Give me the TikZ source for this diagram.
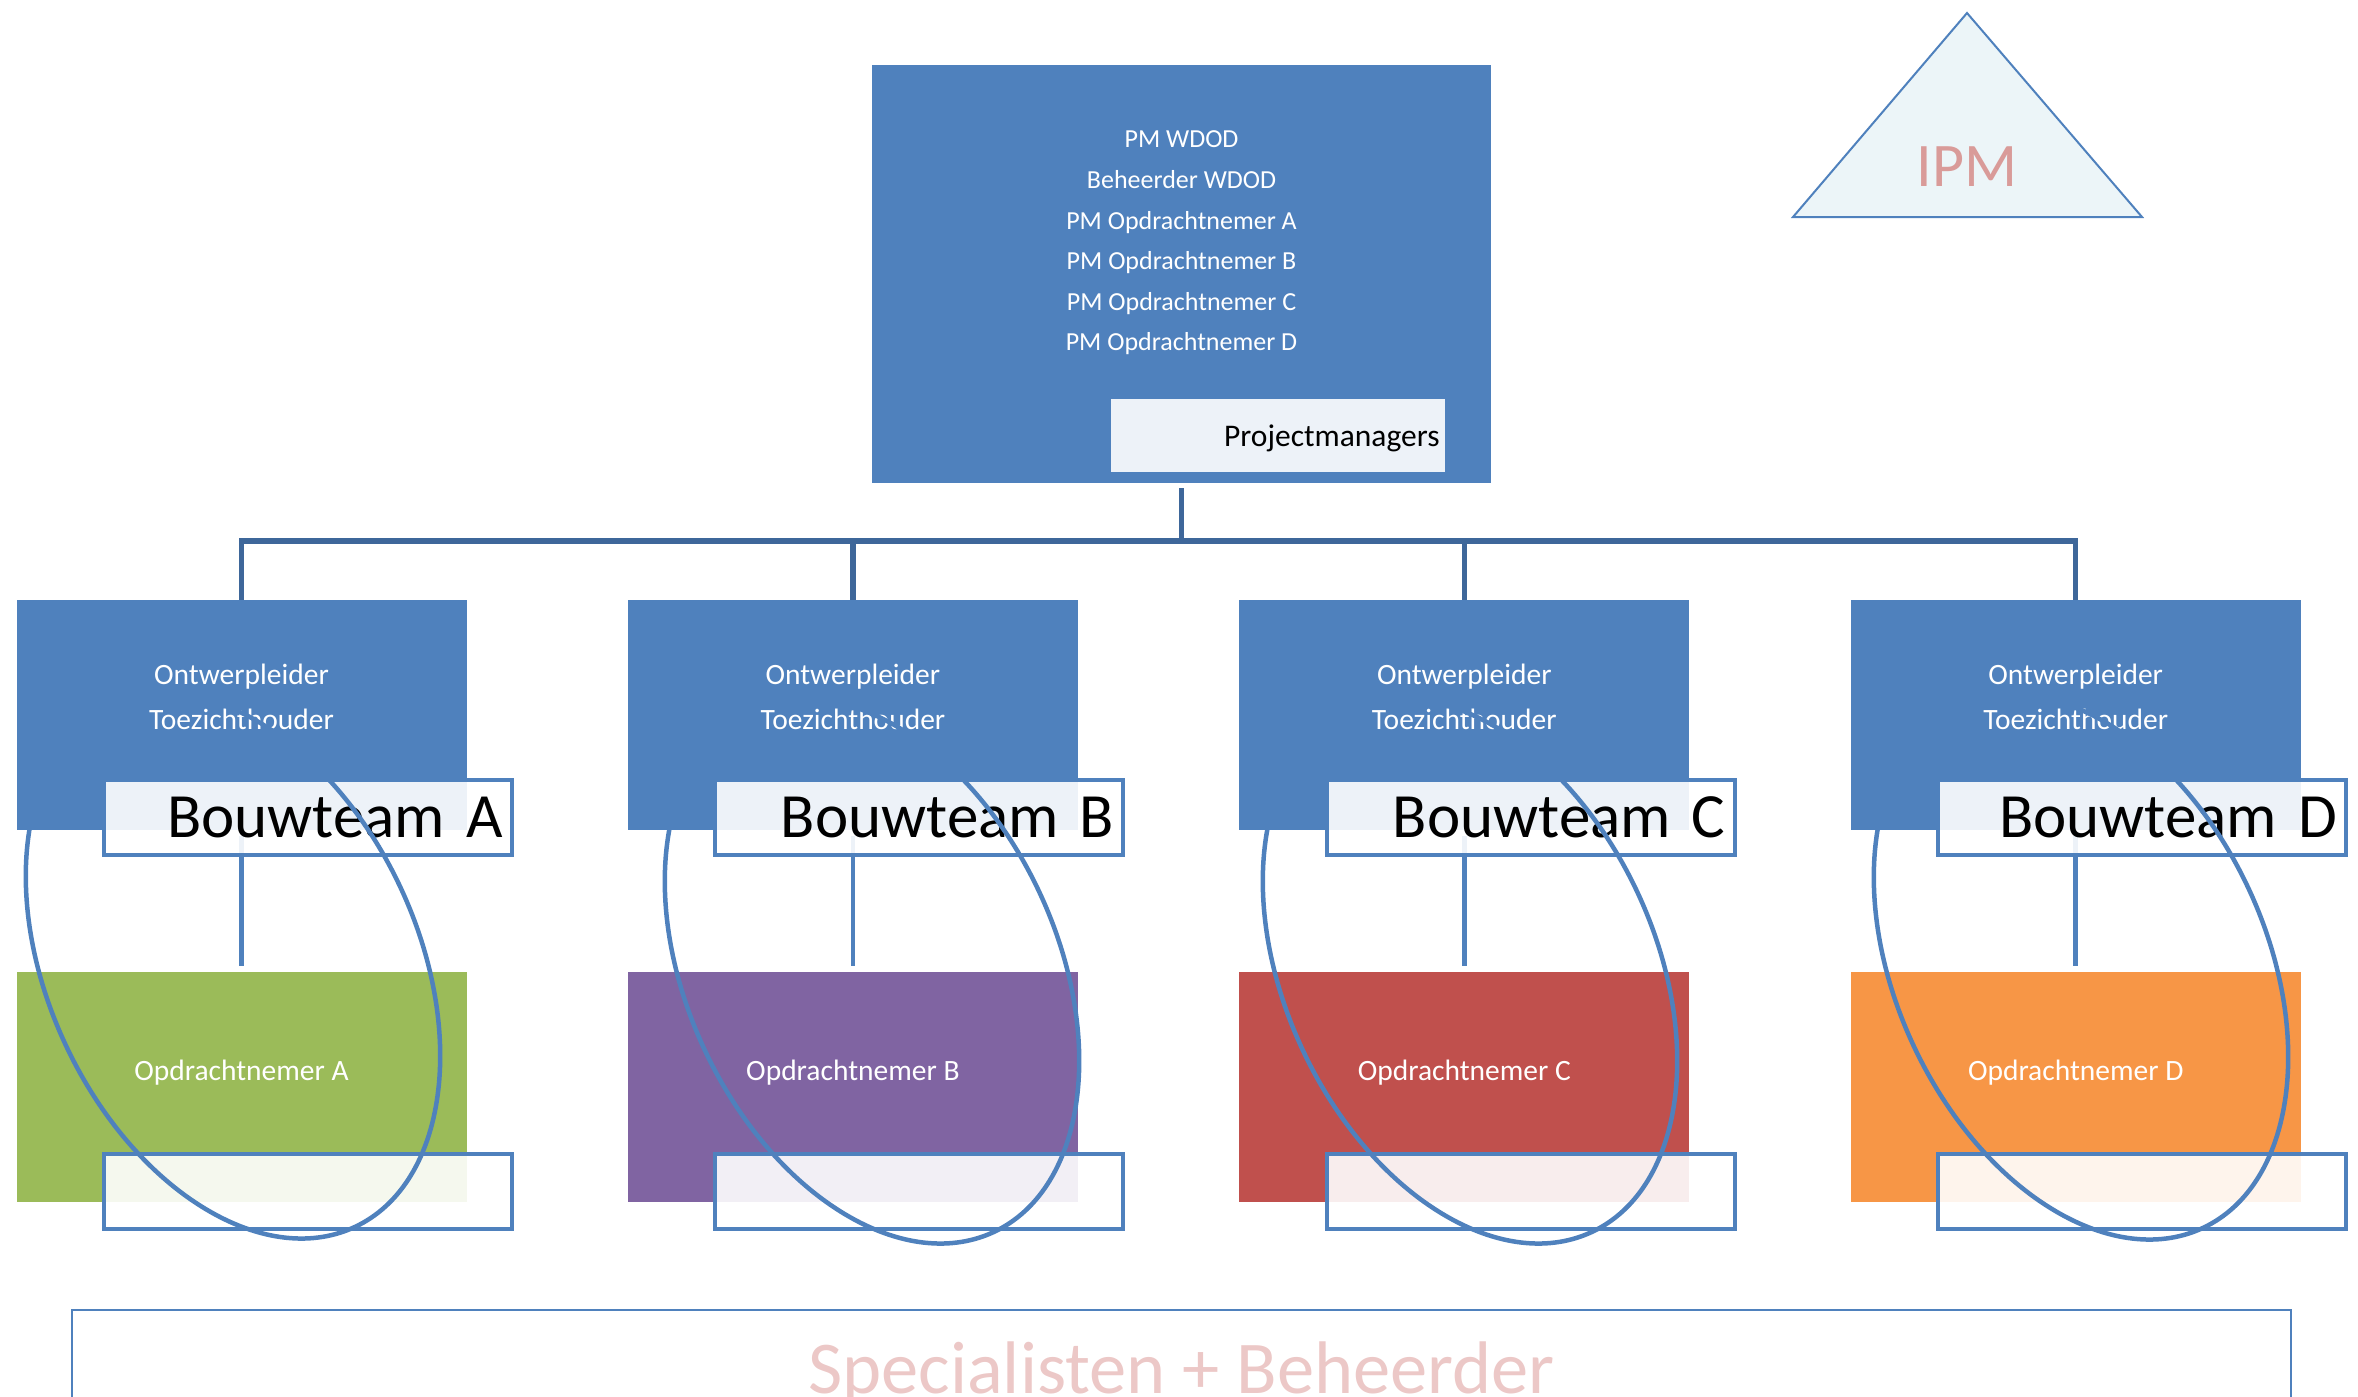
\documentclass[tikz,border=0pt]{standalone}
\usepackage{fontspec}
\setmainfont{Carlito}
\usetikzlibrary{shapes,positioning,calc}
\definecolor{boxblue}{RGB}{79,129,189}
\definecolor{busblue}{RGB}{62,103,154}
\definecolor{firmgreen}{RGB}{155,187,89}
\definecolor{firmpurple}{RGB}{128,100,162}
\definecolor{firmred}{RGB}{192,80,77}
\definecolor{firmorange}{RGB}{247,150,70}
\definecolor{ipmpink}{RGB}{217,155,153}
\definecolor{specpink}{RGB}{236,200,199}
\definecolor{ipmfill}{RGB}{236,245,248}

\begin{document}
\begin{tikzpicture}
  [x=1pt,y=-1pt,
   pmN/.style={rectangle,fill=boxblue,inner sep=0pt,minimum width=619pt,minimum height=418pt},
   leadN/.style={rectangle,fill=boxblue,inner sep=0pt,minimum width=450pt,minimum height=230pt},
   firmN/.style={rectangle,inner sep=0pt,minimum width=450pt,minimum height=230pt},
   tagN/.style={rectangle,draw=boxblue,line width=4pt,fill=white,fill opacity=0.9,text opacity=1,
                minimum width=408pt,minimum height=75pt,inner xsep=9pt,inner ysep=0pt,
                text width=390pt,align=right,anchor=south east,
                font={\fontsize{63}{75}\selectfont\spaceskip=0.1em\relax}},
   pmtagN/.style={rectangle,fill=white,fill opacity=0.9,text opacity=1,
                minimum width=334pt,minimum height=73pt,inner xsep=5pt,inner ysep=0pt,
                text width=324pt,align=right,anchor=south east,
                font=\fontsize{31.5}{36}\selectfont},
   whiteT/.style={text=white,align=center,font=\fontsize{29.5}{45}\selectfont},
   ringN/.style={ellipse,draw=boxblue,line width=4.5pt,inner sep=0pt,
                 minimum width=370pt,minimum height=576pt,rotate=25},
   busline/.style={draw=busblue,line width=5.5pt,shorten <=5pt},
   teamline/.style={draw=boxblue,line width=4.5pt,shorten <=6pt,shorten >=6pt},
   node distance=161pt]

  \useasboundingbox (0,0) rectangle (2358,1397);

  \node[pmN] (pm) at (1181.5,274) {};

  \node[leadN] (tA) at (241.5,715) {};
  \node[leadN] (tB) [right=of tA] {};
  \node[leadN] (tC) [right=of tB] {};
  \node[leadN] (tD) [right=of tC] {};

  \node[firmN,fill=firmgreen]  (oA) [below=142pt of tA] {};
  \node[firmN,fill=firmpurple] (oB) [below=142pt of tB] {};
  \node[firmN,fill=firmred]    (oC) [below=142pt of tC] {};
  \node[firmN,fill=firmorange] (oD) [below=142pt of tD] {};

  \draw[busline] (pm.south) -- ++(0,58) -| (tA.north);
  \draw[busline] (pm.south) -- ++(0,58) -| (tB.north);
  \draw[busline] (pm.south) -- ++(0,58) -| (tC.north);
  \draw[busline] (pm.south) -- ++(0,58) -| (tD.north);

  \draw[teamline] (tA) -- (oA);
  \draw[teamline] (tB) -- (oB);
  \draw[teamline] (tC) -- (oC);
  \draw[teamline] (tD) -- (oD);

  \node[whiteT,font=\fontsize{26}{40.6}\selectfont] (pmlist) at (1181.5,243)
    {PM WDOD\\Beheerder WDOD\\PM Opdrachtnemer A\\PM Opdrachtnemer B\\PM Opdrachtnemer C\\PM Opdrachtnemer D};
  \node[pmtagN,xshift=-46.5pt,yshift=11pt] (pmtag) at (pm.south east)
    {\raisebox{-3pt}[\height][\depth]{Projectmanagers}};

  \node[whiteT] (lA) at ([yshift=18pt]tA.center) {Ontwerpleider\\Toezichthouder};
  \node[whiteT] (lB) at ([yshift=18pt]tB.center) {Ontwerpleider\\Toezichthouder};
  \node[whiteT] (lC) at ([yshift=18pt]tC.center) {Ontwerpleider\\Toezichthouder};
  \node[whiteT] (lD) at ([yshift=18pt]tD.center) {Ontwerpleider\\Toezichthouder};

  \node[whiteT] (fA) at ([yshift=14.5pt]oA.center) {Opdrachtnemer A};
  \node[whiteT] (fB) at ([yshift=14.5pt]oB.center) {Opdrachtnemer B};
  \node[whiteT] (fC) at ([yshift=14.5pt]oC.center) {Opdrachtnemer C};
  \node[whiteT] (fD) at ([yshift=14.5pt]oD.center) {Opdrachtnemer D};

  \node[tagN,xshift=47pt,yshift=-27pt] (gA) at (tA.south east) {Bouwteam A};
  \node[tagN,xshift=47pt,yshift=-27pt] (gB) at (tB.south east) {Bouwteam B};
  \node[tagN,xshift=47pt,yshift=-27pt] (gC) at (tC.south east) {Bouwteam C};
  \node[tagN,xshift=47pt,yshift=-27pt] (gD) at (tD.south east) {Bouwteam D};

  \node[tagN,xshift=47pt,yshift=-28pt] (hA) at (oA.south east) {};
  \node[tagN,xshift=47pt,yshift=-28pt] (hB) at (oB.south east) {};
  \node[tagN,xshift=47pt,yshift=-28pt] (hC) at (oC.south east) {};
  \node[tagN,xshift=47pt,yshift=-28pt] (hD) at (oD.south east) {};

  \node[ringN] (eA) at (233,966) {};
  \node[ringN] (eB) at (872,971) {};
  \node[ringN] (eC) at (1470,971) {};
  \node[ringN] (eD) at (2081,967) {};

  \filldraw[fill=ipmfill,draw=boxblue,line width=2pt] (1967,13) -- (2142,217) -- (1793,217) -- cycle;
  \node[text=ipmpink,font=\fontsize{62}{70}\selectfont] (ipm) at (1967,167) {IPM};

  \draw[boxblue,line width=2pt] (72,1310) rectangle (2291,1405);
  \node[text=specpink,font=\fontsize{74.5}{80}\selectfont,anchor=base] (spec) at (1181.5,1393)
    {Specialisten + Beheerder};

\end{tikzpicture}
\end{document}
